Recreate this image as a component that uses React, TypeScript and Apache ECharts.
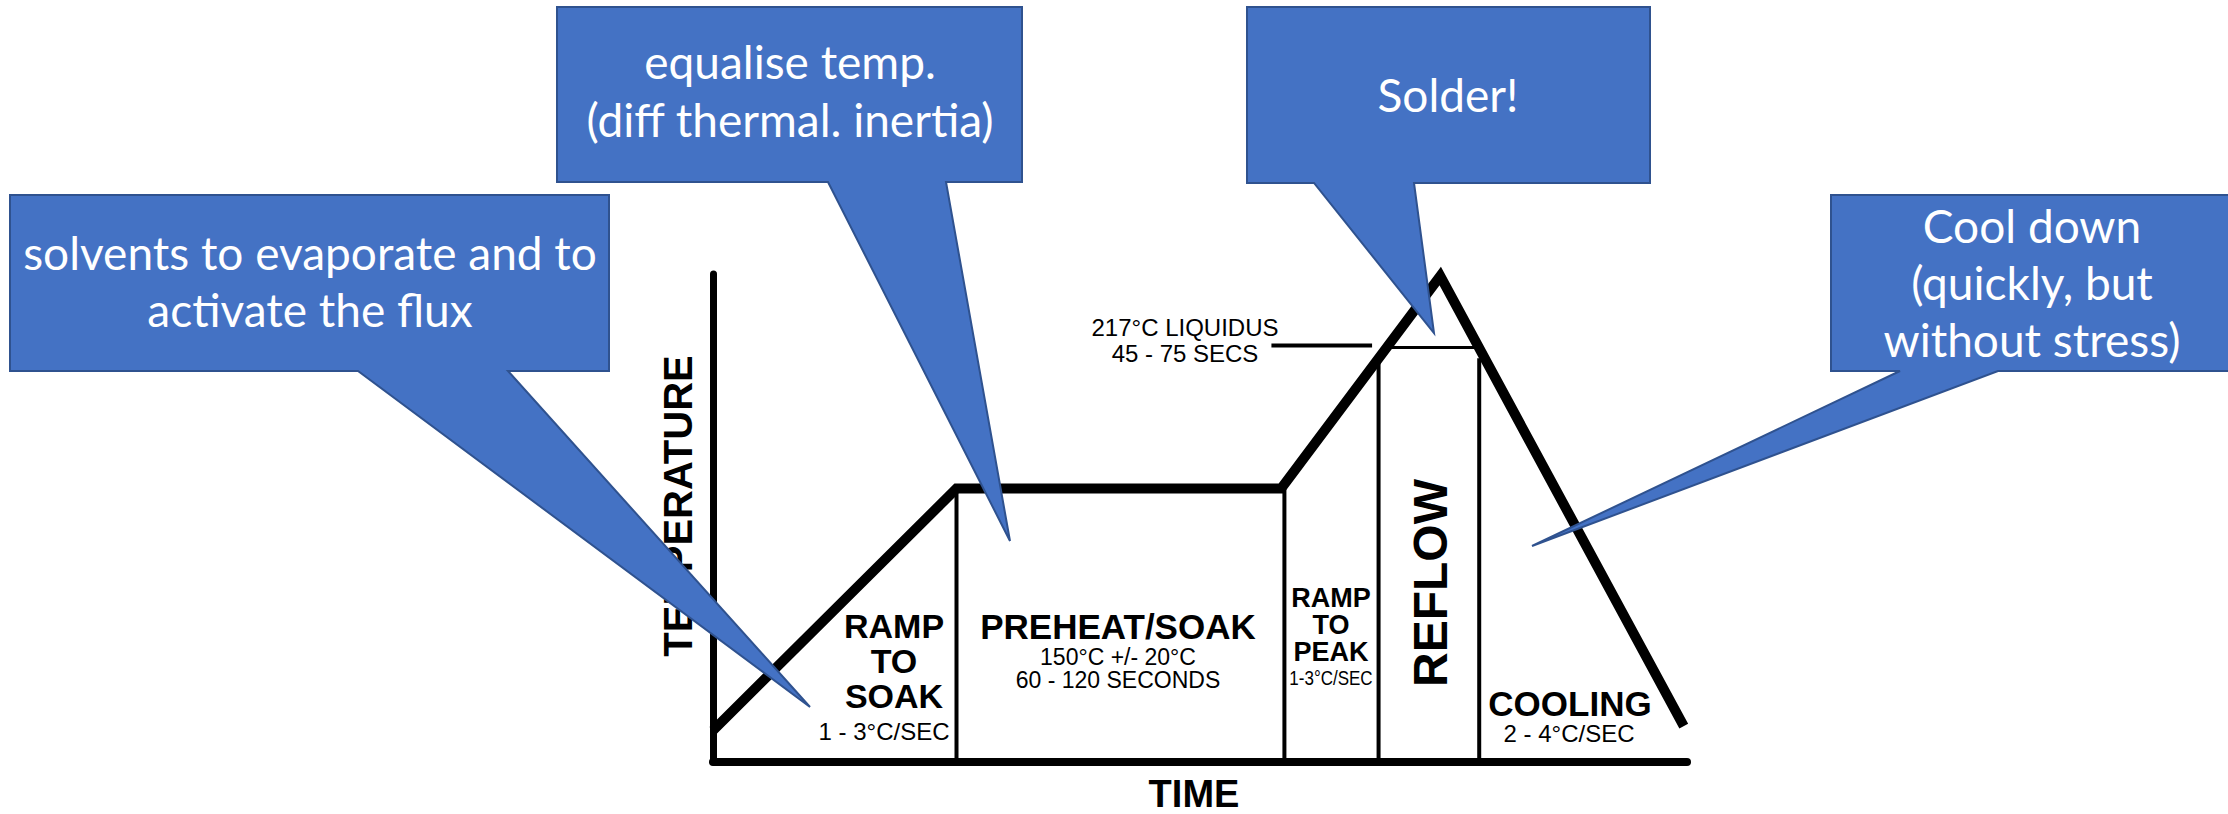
import React, { useEffect, useRef } from "react";
import * as echarts from "echarts";

// ---- data (time in s, temperature in °C) ----
const TIME_MIN = 0;
const TIME_MAX = 300;
const TEMP_MIN = 20;
const TEMP_MAX = 252;

const profileTime = [0, 75, 175, 224, 299];
const profileTemp = [35, 150, 150, 251, 37];

const dividerTime = [75, 176, 205, 236];
const dividerTop = [150, 150, 211, 212];

const liquidusTemp = 217;
const liquidusTime = [207, 236];
const leaderTemp = 218;
const leaderTime = [172, 203];

const W = 2228;
const H = 814;

const ARIAL = '"Liberation Sans", Arial, Helvetica, sans-serif';
const CALLOUT_FONT = 'Lato, "Open Sans", sans-serif';

function fitSize(text: string, family: string, target: number): number {
  const c = document.createElement("canvas").getContext("2d");
  if (!c) return 45;
  c.font = `100px ${family}`;
  const w = c.measureText(text).width;
  return w > 0 ? (100 * target) / w : 45;
}

export default function App() {
  const ref = useRef<HTMLDivElement>(null);

  useEffect(() => {
    if (!ref.current) return;
    const chart = echarts.init(ref.current, null, { renderer: "svg" });

    const cfs = fitSize("(diff thermal. inertia)", CALLOUT_FONT, 408);
    const base = (b: number) => b - 0.38 * cfs;

    const txt = (
      text: string,
      x: number,
      y: number,
      size: number,
      o: {
        bold?: boolean;
        rotation?: number;
        scaleX?: number;
        fill?: string;
        family?: string;
        z?: number;
        lineHeight?: number;
      } = {}
    ) => ({
      type: "text",
      x,
      y,
      z: o.z ?? 50,
      silent: true,
      rotation: o.rotation ?? 0,
      scaleX: o.scaleX ?? 1,
      style: {
        text,
        fill: o.fill ?? "#000",
        fontFamily: o.family ?? ARIAL,
        fontSize: size,
        fontWeight: o.bold ? "bold" : "normal",
        lineHeight: o.lineHeight ?? size,
        textAlign: "center",
        textVerticalAlign: "middle",
        align: "center",
        verticalAlign: "middle",
      },
    });

    const callout = (box: number[], tail: number[], tip: number[]) => ({
      type: "polygon",
      z: 100,
      silent: true,
      shape: {
        points: [
          [box[0], box[1]],
          [box[2], box[1]],
          [box[2], box[3]],
          [tail[1], box[3]],
          tip,
          [tail[0], box[3]],
          [box[0], box[3]],
        ],
      },
      style: { fill: "#4472C4", stroke: "#2F528F", lineWidth: 2 },
    });

    const ct = (text: string, x: number, b: number) =>
      txt(text, x, base(b), cfs, { fill: "#fff", family: CALLOUT_FONT, z: 101 });

    const lineSeries = (data: number[][], width: number, z: number) => ({
      type: "line",
      data,
      symbol: "none",
      showSymbol: false,
      clip: false,
      silent: true,
      z,
      lineStyle: { color: "#000", width, cap: "butt", join: "miter" },
    });

    const series: any[] = [];
    dividerTime.forEach((t, i) => {
      series.push(lineSeries([[t, TEMP_MIN], [t, dividerTop[i]]], 4, 2));
    });
    series.push(lineSeries([[liquidusTime[0], liquidusTemp], [liquidusTime[1], liquidusTemp]], 3, 2));
    series.push(lineSeries([[leaderTime[0], leaderTemp], [leaderTime[1], leaderTemp]], 4, 2));
    series.push(lineSeries(profileTime.map((t, i) => [t, profileTemp[i]]), 10, 5));

    const option: any = {
      animation: false,
      grid: { left: 713, right: W - 1687, top: 274, bottom: H - 762, containLabel: false },
      xAxis: {
        type: "value",
        min: TIME_MIN,
        max: TIME_MAX,
        axisLine: { show: true, onZero: false, lineStyle: { color: "#000", width: 8 } },
        axisTick: { show: false },
        axisLabel: { show: false },
        splitLine: { show: false },
      },
      yAxis: {
        type: "value",
        min: TEMP_MIN,
        max: TEMP_MAX,
        axisLine: { show: true, onZero: false, lineStyle: { color: "#000", width: 7 } },
        axisTick: { show: false },
        axisLabel: { show: false },
        splitLine: { show: false },
      },
      series,
      graphic: {
        elements: [
          // axis titles
          txt("TEMPERATURE", 678, 506, 40, { bold: true, rotation: Math.PI / 2 }),
          txt("TIME", 1194, 794, 38, { bold: true }),
          // phase labels
          txt("RAMP\nTO\nSOAK", 894, 661, 34, { bold: true, lineHeight: 35 }),
          txt("1 - 3°C/SEC", 884, 731, 24),
          txt("PREHEAT/SOAK", 1118, 626, 35, { bold: true }),
          txt("150°C +/- 20°C\n60 - 120 SECONDS", 1118, 668.5, 23, { lineHeight: 23.5 }),
          txt("RAMP\nTO\nPEAK", 1331, 625, 27, { bold: true, lineHeight: 27 }),
          txt("1-3°C/SEC", 1331, 678, 20, { scaleX: 0.85 }),
          txt("REFLOW", 1430, 583, 48, { bold: true, rotation: Math.PI / 2 }),
          txt("COOLING", 1570, 703, 35, { bold: true }),
          txt("2 - 4°C/SEC", 1569, 733, 24),
          txt("217°C LIQUIDUS", 1185, 327, 24),
          txt("45 - 75 SECS", 1185, 353, 24),
          // callouts
          callout([10, 195, 609, 371], [358, 508], [810, 707]),
          ct("solvents to evaporate and to", 310, 270),
          ct("activate the flux", 310, 327),
          callout([557, 7, 1022, 182], [828, 946], [1010, 541]),
          ct("equalise temp.", 790, 79),
          ct("(diff thermal. inertia)", 790, 137),
          callout([1247, 7, 1650, 183], [1314, 1414], [1434, 333]),
          ct("Solder!", 1448, 112),
          callout([1831, 195, 2240, 371], [1900, 1998], [1532, 546]),
          ct("Cool down", 2032, 243),
          ct("(quickly, but", 2032, 300),
          ct("without stress)", 2032, 357),
        ],
      },
    };

    chart.setOption(option);
    return () => chart.dispose();
  }, []);

  return (
    <div
      ref={ref}
      style={{ position: "fixed", left: 0, top: 0, width: W, height: H, background: "#fff" }}
    />
  );
}
